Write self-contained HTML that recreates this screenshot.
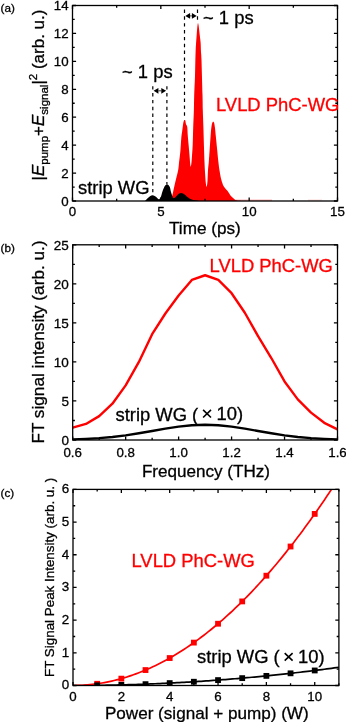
<!DOCTYPE html>
<html><head><meta charset="utf-8"><style>
html,body{margin:0;padding:0;background:#fff;width:346px;height:722px;overflow:hidden}
svg{display:block;will-change:transform}
text{font-family:"Liberation Sans", sans-serif;stroke-width:0.3px;paint-order:stroke}
</style></head><body>
<svg width="346" height="722" viewBox="0 0 346 722">

<path d="M170.8 201C170.92 200.67 171.13 200.42 171.5 199C171.87 197.58 172.48 194.83 173 192.5C173.52 190.17 174.03 187.5 174.6 185C175.17 182.5 175.8 180 176.4 177.5C177 175 177.75 172.58 178.2 170C178.65 167.42 178.73 165.2 179.1 162C179.47 158.8 180.03 154.8 180.4 150.8C180.77 146.8 181.02 141.18 181.3 138C181.58 134.82 181.78 134.12 182.1 131.7C182.42 129.28 182.88 125.38 183.2 123.5C183.52 121.62 183.77 121 184 120.4C184.23 119.8 184.38 119.87 184.6 119.9C184.82 119.93 185.07 119.88 185.3 120.6C185.53 121.32 185.68 123.17 186 124.2C186.32 125.23 186.9 124.83 187.2 126.8C187.5 128.77 187.57 133.02 187.8 136C188.03 138.98 188.32 141.52 188.6 144.7C188.88 147.88 189.2 151.58 189.5 155.1C189.8 158.62 190.15 164.02 190.4 165.8C190.65 167.58 190.78 166.77 191 165.8C191.22 164.83 191.42 163.52 191.7 160C191.98 156.48 192.45 150.15 192.7 144.7C192.95 139.25 193 133.08 193.2 127.3C193.4 121.52 193.73 115.38 193.9 110C194.07 104.62 194.02 100.67 194.2 95C194.38 89.33 194.77 83.17 195 76C195.23 68.83 195.32 58.88 195.6 52C195.88 45.12 196.38 39.12 196.7 34.7C197.02 30.28 197.28 27.42 197.5 25.5C197.72 23.58 197.82 23.2 198 23.2C198.18 23.2 198.32 23.58 198.6 25.5C198.88 27.42 199.37 31.87 199.7 34.7C200.03 37.53 200.38 39.62 200.6 42.5C200.82 45.38 200.85 49.08 201 52C201.15 54.92 201.25 52.83 201.5 60C201.75 67.17 202.28 86.67 202.5 95C202.72 103.33 202.65 104.62 202.8 110C202.95 115.38 203.22 121.52 203.4 127.3C203.58 133.08 203.72 138.92 203.9 144.7C204.08 150.48 204.32 157.45 204.5 162C204.68 166.55 204.78 168.5 205 172C205.22 175.5 205.52 180.53 205.8 183C206.08 185.47 206.42 187.13 206.7 186.8C206.98 186.47 207.28 183.8 207.5 181C207.72 178.2 207.78 173.17 208 170C208.22 166.83 208.52 165.5 208.8 162C209.08 158.5 209.4 153.33 209.7 149C210 144.67 210.32 139.62 210.6 136C210.88 132.38 211.1 129.53 211.4 127.3C211.7 125.07 212.1 123.53 212.4 122.6C212.7 121.67 212.93 121.7 213.2 121.7C213.47 121.7 213.72 121.67 214 122.6C214.28 123.53 214.6 125.07 214.9 127.3C215.2 129.53 215.43 132.38 215.8 136C216.17 139.62 216.67 144.67 217.1 149C217.53 153.33 217.97 158.23 218.4 162C218.83 165.77 219.27 168.85 219.7 171.6C220.13 174.35 220.53 176.52 221 178.5C221.47 180.48 222 182.13 222.5 183.5C223 184.87 223.15 185.43 224 186.7C224.85 187.97 226.52 189.65 227.6 191.1C228.68 192.55 229.53 194.2 230.5 195.4C231.47 196.6 232.32 197.45 233.4 198.3C234.48 199.15 235.07 200.05 237 200.5C238.93 200.95 243.67 200.92 245 201Z" fill="#ff0000"/>
<path d="M145 201C145.43 200.53 146.77 199 147.6 198.2C148.43 197.4 149.13 196.68 150 196.2C150.87 195.72 151.88 195.25 152.8 195.3C153.72 195.35 154.58 195.88 155.5 196.5C156.42 197.12 157.63 198.58 158.3 199C158.97 199.42 159.05 199.42 159.5 199C159.95 198.58 160.53 197.67 161 196.5C161.47 195.33 161.72 193.67 162.3 192C162.88 190.33 163.85 187.7 164.5 186.5C165.15 185.3 165.77 185.12 166.2 184.8C166.63 184.48 166.8 184.6 167.1 184.6C167.4 184.6 167.55 184.4 168 184.8C168.45 185.2 169.3 185.8 169.8 187C170.3 188.2 170.53 190.37 171 192C171.47 193.63 172.12 195.77 172.6 196.8C173.08 197.83 173.42 198.17 173.9 198.2C174.38 198.23 174.95 197.5 175.5 197C176.05 196.5 176.58 195.78 177.2 195.2C177.82 194.62 178.53 193.87 179.2 193.5C179.87 193.13 180.48 192.95 181.2 193C181.92 193.05 182.73 193.38 183.5 193.8C184.27 194.22 184.97 194.83 185.8 195.5C186.63 196.17 187.52 197.13 188.5 197.8C189.48 198.47 190.07 199 191.7 199.5C193.33 200 196.92 200.55 198.3 200.8C199.68 201.05 199.72 200.97 200 201Z" fill="#000"/>
<path d="M236 200.2H272" stroke="#ff0000" stroke-width="0.6" opacity="0.8"/>
<path d="M308 200.1H322" stroke="#ff0000" stroke-width="0.6" opacity="0.35"/>
<path d="M152.8 86.2V194M166.9 86.2V184.5M184.5 9.5V118M197.5 9.5V23" stroke="#000" stroke-width="1.2" stroke-dasharray="3.4 3.45" fill="none"/>
<path d="M158.4 90.8H161.3" stroke="#000" stroke-width="0.8"/>
<path d="M153.6 90.8L158.4 87.9V93.7Z M166.1 90.8L161.3 87.9V93.7Z" fill="#000"/>
<path d="M190.1 15.9H191.9" stroke="#000" stroke-width="0.8"/>
<path d="M185.3 15.9L190.1 13V18.8Z M196.7 15.9L191.9 13V18.8Z" fill="#000"/>
<path d="M72.5 201v-3.6M72.5 5.5v3.6M160.83 201v-3.6M160.83 5.5v3.6M249.17 201v-3.6M249.17 5.5v3.6M337.5 201v-3.6M337.5 5.5v3.6M116.67 201v-2.2M116.67 5.5v2.2M205 201v-2.2M205 5.5v2.2M293.33 201v-2.2M293.33 5.5v2.2M72.5 201h3.6M337.5 201h-3.6M72.5 173.07h3.6M337.5 173.07h-3.6M72.5 145.14h3.6M337.5 145.14h-3.6M72.5 117.21h3.6M337.5 117.21h-3.6M72.5 89.29h3.6M337.5 89.29h-3.6M72.5 61.36h3.6M337.5 61.36h-3.6M72.5 33.43h3.6M337.5 33.43h-3.6M72.5 5.5h3.6M337.5 5.5h-3.6M72.5 187.04h2.2M337.5 187.04h-2.2M72.5 159.11h2.2M337.5 159.11h-2.2M72.5 131.18h2.2M337.5 131.18h-2.2M72.5 103.25h2.2M337.5 103.25h-2.2M72.5 75.32h2.2M337.5 75.32h-2.2M72.5 47.39h2.2M337.5 47.39h-2.2M72.5 19.46h2.2M337.5 19.46h-2.2" stroke="#000" stroke-width="1.3" fill="none"/>
<rect x="72.5" y="5.5" width="265" height="195.5" stroke="#000" stroke-width="1.3" fill="none"/>
<text x="68.6" y="205.6" font-size="13.3" text-anchor="end" fill="#000" stroke="#000" >0</text>
<text x="68.6" y="177.67" font-size="13.3" text-anchor="end" fill="#000" stroke="#000" >2</text>
<text x="68.6" y="149.74" font-size="13.3" text-anchor="end" fill="#000" stroke="#000" >4</text>
<text x="68.6" y="121.81" font-size="13.3" text-anchor="end" fill="#000" stroke="#000" >6</text>
<text x="68.6" y="93.89" font-size="13.3" text-anchor="end" fill="#000" stroke="#000" >8</text>
<text x="68.6" y="65.96" font-size="13.3" text-anchor="end" fill="#000" stroke="#000" >10</text>
<text x="68.6" y="38.03" font-size="13.3" text-anchor="end" fill="#000" stroke="#000" >12</text>
<text x="68.6" y="10.1" font-size="13.3" text-anchor="end" fill="#000" stroke="#000" >14</text>
<text x="72.5" y="216.2" font-size="13.3" text-anchor="middle" fill="#000" stroke="#000" >0</text>
<text x="160.83" y="216.2" font-size="13.3" text-anchor="middle" fill="#000" stroke="#000" >5</text>
<text x="249.17" y="216.2" font-size="13.3" text-anchor="middle" fill="#000" stroke="#000" >10</text>
<text x="337.5" y="216.2" font-size="13.3" text-anchor="middle" fill="#000" stroke="#000" >15</text>
<text x="203" y="23.7" font-size="18.4" text-anchor="start" fill="#000" stroke="#000" >~ 1 ps</text>
<text x="122" y="78.1" font-size="18.4" text-anchor="start" fill="#000" stroke="#000" >~ 1 ps</text>
<text x="216" y="110.7" font-size="18.4" text-anchor="start" fill="#ff0000" stroke="#ff0000" >LVLD PhC-WG</text>
<text x="78" y="194.3" font-size="18.4" text-anchor="start" fill="#000" stroke="#000" >strip WG</text>
<text x="169" y="233.9" font-size="17.15" text-anchor="start" fill="#000" stroke="#000" >Time (ps)</text>
<text x="0.5" y="11.7" font-size="11.7" text-anchor="start" fill="#000" stroke="#000" >(a)</text>
<text stroke="#000" transform="translate(43.6,180.5) rotate(-90)" font-size="17">|<tspan font-style="italic">E</tspan><tspan font-size="11.5" dy="4.8">pump</tspan><tspan dy="-4.8">+</tspan><tspan font-style="italic">E</tspan><tspan font-size="11.5" dy="4.8">signal</tspan><tspan dy="-4.8">|</tspan><tspan font-size="11.5" dy="-7">2</tspan><tspan dy="7"> (arb. u.)</tspan></text>
<svg x="0" y="0" width="346" height="722" overflow="hidden"><clipPath id="cb"><rect x="72.7" y="244.8" width="264.8" height="195.2"/></clipPath></svg>
<path d="M72.7 439.43 L85.94 438.93 L99.18 438.14 L112.42 436.95 L125.66 435.32 L138.9 433.28 L152.14 430.96 L165.38 428.62 L178.62 426.58 L191.86 425.19 L205.1 424.7 L218.34 425.19 L231.58 426.58 L244.82 428.62 L258.06 430.96 L271.3 433.28 L284.54 435.32 L297.78 436.95 L311.02 438.14 L324.26 438.93 L337.5 439.43" stroke="#000" stroke-width="2.4" fill="none" stroke-linejoin="round" clip-path="url(#cb)"/>
<path d="M72.7 427.66 L85.94 423.92 L99.18 416.11 L112.42 403.69 L125.66 385.34 L138.9 361.92 L152.14 334.2 L165.38 313.51 L178.62 295.55 L191.86 279.94 L205.1 275.25 L218.34 279.94 L231.58 293.21 L244.82 312.73 L258.06 336.15 L271.3 358.02 L284.54 381.44 L297.78 399.4 L311.02 412.67 L324.26 422.82 L337.5 429.38" stroke="#ff0000" stroke-width="2.4" fill="none" stroke-linejoin="round" clip-path="url(#cb)"/>
<path d="M72.7 440v-3.6M72.7 244.8v3.6M125.66 440v-3.6M125.66 244.8v3.6M178.62 440v-3.6M178.62 244.8v3.6M231.58 440v-3.6M231.58 244.8v3.6M284.54 440v-3.6M284.54 244.8v3.6M337.5 440v-3.6M337.5 244.8v3.6M99.18 440v-2.2M99.18 244.8v2.2M152.14 440v-2.2M152.14 244.8v2.2M205.1 440v-2.2M205.1 244.8v2.2M258.06 440v-2.2M258.06 244.8v2.2M311.02 440v-2.2M311.02 244.8v2.2M72.7 440h3.6M337.5 440h-3.6M72.7 400.96h3.6M337.5 400.96h-3.6M72.7 361.92h3.6M337.5 361.92h-3.6M72.7 322.88h3.6M337.5 322.88h-3.6M72.7 283.84h3.6M337.5 283.84h-3.6M72.7 244.8h3.6M337.5 244.8h-3.6M72.7 420.48h2.2M337.5 420.48h-2.2M72.7 381.44h2.2M337.5 381.44h-2.2M72.7 342.4h2.2M337.5 342.4h-2.2M72.7 303.36h2.2M337.5 303.36h-2.2M72.7 264.32h2.2M337.5 264.32h-2.2" stroke="#000" stroke-width="1.3" fill="none"/>
<rect x="72.7" y="244.8" width="264.8" height="195.2" stroke="#000" stroke-width="1.3" fill="none"/>
<text x="68.9" y="445.4" font-size="13.5" text-anchor="end" fill="#000" stroke="#000" >0</text>
<text x="68.9" y="406.36" font-size="13.5" text-anchor="end" fill="#000" stroke="#000" >5</text>
<text x="68.9" y="367.32" font-size="13.5" text-anchor="end" fill="#000" stroke="#000" >10</text>
<text x="68.9" y="328.28" font-size="13.5" text-anchor="end" fill="#000" stroke="#000" >15</text>
<text x="68.9" y="289.24" font-size="13.5" text-anchor="end" fill="#000" stroke="#000" >20</text>
<text x="68.9" y="250.2" font-size="13.5" text-anchor="end" fill="#000" stroke="#000" >25</text>
<text x="72.7" y="456.6" font-size="13.3" text-anchor="middle" fill="#000" stroke="#000" >0.6</text>
<text x="125.66" y="456.6" font-size="13.3" text-anchor="middle" fill="#000" stroke="#000" >0.8</text>
<text x="178.62" y="456.6" font-size="13.3" text-anchor="middle" fill="#000" stroke="#000" >1.0</text>
<text x="231.58" y="456.6" font-size="13.3" text-anchor="middle" fill="#000" stroke="#000" >1.2</text>
<text x="284.54" y="456.6" font-size="13.3" text-anchor="middle" fill="#000" stroke="#000" >1.4</text>
<text x="337.5" y="456.6" font-size="13.3" text-anchor="middle" fill="#000" stroke="#000" >1.6</text>
<text x="209.6" y="272" font-size="18.4" text-anchor="start" fill="#ff0000" stroke="#ff0000" >LVLD PhC-WG</text>
<text x="115.5" y="420.6" font-size="18.4" text-anchor="start" fill="#000" stroke="#000" >strip WG (</text>
<path d="M203.1 409.9L211 417.5M203.1 417.5L211 409.9" stroke="#000" stroke-width="1.6"/>
<text x="216.5" y="420.2" font-size="18.4" text-anchor="start" fill="#000" stroke="#000" >10)</text>
<text x="141.9" y="476.6" font-size="17.08" text-anchor="start" fill="#000" stroke="#000" >Frequency (THz)</text>
<text x="0.5" y="251.9" font-size="11.7" text-anchor="start" fill="#000" stroke="#000" >(b)</text>
<text stroke="#000" transform="translate(44,443.6) rotate(-90)" font-size="17.2">FT signal intensity (arb. u.)</text>
<svg x="0" y="0" width="346" height="722"><clipPath id="cc"><rect x="73.0" y="489.4" width="265.9" height="196.10000000000002"/></clipPath></svg>
<path d="M73 685.5 L75.42 685.5 L77.83 685.49 L80.25 685.49 L82.67 685.48 L85.09 685.46 L87.5 685.45 L89.92 685.43 L92.34 685.4 L94.76 685.38 L97.17 685.35 L99.59 685.32 L102.01 685.28 L104.42 685.25 L106.84 685.21 L109.26 685.16 L111.68 685.12 L114.09 685.07 L116.51 685.01 L118.93 684.96 L121.35 684.9 L123.76 684.84 L126.18 684.77 L128.6 684.7 L131.01 684.63 L133.43 684.56 L135.85 684.48 L138.27 684.4 L140.68 684.32 L143.1 684.24 L145.52 684.15 L147.94 684.06 L150.35 683.96 L152.77 683.86 L155.19 683.76 L157.6 683.66 L160.02 683.55 L162.44 683.44 L164.86 683.33 L167.27 683.21 L169.69 683.09 L172.11 682.97 L174.53 682.85 L176.94 682.72 L179.36 682.59 L181.78 682.46 L184.19 682.32 L186.61 682.18 L189.03 682.04 L191.45 681.89 L193.86 681.74 L196.28 681.59 L198.7 681.43 L201.12 681.28 L203.53 681.12 L205.95 680.95 L208.37 680.79 L210.78 680.62 L213.2 680.44 L215.62 680.27 L218.04 680.09 L220.45 679.91 L222.87 679.72 L225.29 679.53 L227.71 679.34 L230.12 679.15 L232.54 678.95 L234.96 678.75 L237.37 678.55 L239.79 678.34 L242.21 678.13 L244.63 677.92 L247.04 677.71 L249.46 677.49 L251.88 677.27 L254.3 677.04 L256.71 676.82 L259.13 676.59 L261.55 676.35 L263.96 676.12 L266.38 675.88 L268.8 675.64 L271.22 675.39 L273.63 675.14 L276.05 674.89 L278.47 674.64 L280.89 674.38 L283.3 674.12 L285.72 673.86 L288.14 673.59 L290.55 673.32 L292.97 673.05 L295.39 672.77 L297.81 672.5 L300.22 672.22 L302.64 671.93 L305.06 671.64 L307.48 671.35 L309.89 671.06 L312.31 670.76 L314.73 670.47 L317.14 670.16 L319.56 669.86 L321.98 669.55 L324.4 669.24 L326.81 668.92 L329.23 668.61 L331.65 668.29 L334.07 667.96 L336.48 667.64 L338.9 667.31" stroke="#000" stroke-width="1.7" fill="none" clip-path="url(#cc)"/>
<path d="M73 685.5 L75.42 685.48 L77.83 685.43 L80.25 685.35 L82.67 685.23 L85.09 685.07 L87.5 684.88 L89.92 684.66 L92.34 684.4 L94.76 684.11 L97.17 683.78 L99.59 683.42 L102.01 683.03 L104.42 682.6 L106.84 682.14 L109.26 681.64 L111.68 681.11 L114.09 680.54 L116.51 679.94 L118.93 679.31 L121.35 678.64 L123.76 677.93 L126.18 677.2 L128.6 676.42 L131.01 675.62 L133.43 674.78 L135.85 673.9 L138.27 672.99 L140.68 672.05 L143.1 671.07 L145.52 670.06 L147.94 669.01 L150.35 667.93 L152.77 666.81 L155.19 665.66 L157.6 664.48 L160.02 663.26 L162.44 662.01 L164.86 660.72 L167.27 659.4 L169.69 658.05 L172.11 656.66 L174.53 655.23 L176.94 653.77 L179.36 652.28 L181.78 650.75 L184.19 649.19 L186.61 647.6 L189.03 645.97 L191.45 644.3 L193.86 642.6 L196.28 640.87 L198.7 639.1 L201.12 637.3 L203.53 635.47 L205.95 633.59 L208.37 631.69 L210.78 629.75 L213.2 627.78 L215.62 625.77 L218.04 623.73 L220.45 621.65 L222.87 619.54 L225.29 617.4 L227.71 615.22 L230.12 613 L232.54 610.76 L234.96 608.47 L237.37 606.16 L239.79 603.81 L242.21 601.42 L244.63 599 L247.04 596.55 L249.46 594.06 L251.88 591.54 L254.3 588.98 L256.71 586.39 L259.13 583.77 L261.55 581.11 L263.96 578.41 L266.38 575.68 L268.8 572.92 L271.22 570.12 L273.63 567.29 L276.05 564.43 L278.47 561.53 L280.89 558.59 L283.3 555.63 L285.72 552.62 L288.14 549.59 L290.55 546.51 L292.97 543.41 L295.39 540.27 L297.81 537.09 L300.22 533.89 L302.64 530.64 L305.06 527.36 L307.48 524.05 L309.89 520.71 L312.31 517.33 L314.73 513.91 L317.14 510.46 L319.56 506.98 L321.98 503.46 L324.4 499.91 L326.81 496.32 L329.23 492.7 L331.65 489.05 L334.07 485.36 L336.48 481.64 L338.9 477.88" stroke="#ff0000" stroke-width="1.7" fill="none" clip-path="url(#cc)"/>
<g clip-path="url(#cc)">
<rect x="94.27" y="680.88" width="5.8" height="5.8" fill="#ff0000"/>
<rect x="118.45" y="675.74" width="5.8" height="5.8" fill="#ff0000"/>
<rect x="142.62" y="667.16" width="5.8" height="5.8" fill="#ff0000"/>
<rect x="166.79" y="655.15" width="5.8" height="5.8" fill="#ff0000"/>
<rect x="190.96" y="639.7" width="5.8" height="5.8" fill="#ff0000"/>
<rect x="215.14" y="620.83" width="5.8" height="5.8" fill="#ff0000"/>
<rect x="239.31" y="598.52" width="5.8" height="5.8" fill="#ff0000"/>
<rect x="263.48" y="572.78" width="5.8" height="5.8" fill="#ff0000"/>
<rect x="287.65" y="543.61" width="5.8" height="5.8" fill="#ff0000"/>
<rect x="311.83" y="511.01" width="5.8" height="5.8" fill="#ff0000"/>
<rect x="94.27" y="682.45" width="5.8" height="5.8" fill="#000"/>
<rect x="118.45" y="682" width="5.8" height="5.8" fill="#000"/>
<rect x="142.62" y="681.25" width="5.8" height="5.8" fill="#000"/>
<rect x="166.79" y="680.19" width="5.8" height="5.8" fill="#000"/>
<rect x="190.96" y="678.84" width="5.8" height="5.8" fill="#000"/>
<rect x="215.14" y="677.19" width="5.8" height="5.8" fill="#000"/>
<rect x="239.31" y="675.23" width="5.8" height="5.8" fill="#000"/>
<rect x="263.48" y="672.98" width="5.8" height="5.8" fill="#000"/>
<rect x="287.65" y="670.42" width="5.8" height="5.8" fill="#000"/>
<rect x="311.83" y="667.57" width="5.8" height="5.8" fill="#000"/>
</g>
<path d="M73 685.5v-3.6M73 489.4v3.6M121.35 685.5v-3.6M121.35 489.4v3.6M169.69 685.5v-3.6M169.69 489.4v3.6M218.04 685.5v-3.6M218.04 489.4v3.6M266.38 685.5v-3.6M266.38 489.4v3.6M314.73 685.5v-3.6M314.73 489.4v3.6M97.17 685.5v-2.2M97.17 489.4v2.2M145.52 685.5v-2.2M145.52 489.4v2.2M193.86 685.5v-2.2M193.86 489.4v2.2M242.21 685.5v-2.2M242.21 489.4v2.2M290.55 685.5v-2.2M290.55 489.4v2.2M338.9 685.5v-2.2M338.9 489.4v2.2M73 685.5h3.6M338.9 685.5h-3.6M73 652.82h3.6M338.9 652.82h-3.6M73 620.13h3.6M338.9 620.13h-3.6M73 587.45h3.6M338.9 587.45h-3.6M73 554.77h3.6M338.9 554.77h-3.6M73 522.08h3.6M338.9 522.08h-3.6M73 489.4h3.6M338.9 489.4h-3.6M73 669.16h2.2M338.9 669.16h-2.2M73 636.48h2.2M338.9 636.48h-2.2M73 603.79h2.2M338.9 603.79h-2.2M73 571.11h2.2M338.9 571.11h-2.2M73 538.42h2.2M338.9 538.42h-2.2M73 505.74h2.2M338.9 505.74h-2.2" stroke="#000" stroke-width="1.3" fill="none"/>
<rect x="73" y="489.4" width="265.9" height="196.1" stroke="#000" stroke-width="1.3" fill="none"/>
<text x="69.3" y="689.4" font-size="13.4" text-anchor="end" fill="#000" stroke="#000" >0</text>
<text x="69.3" y="656.72" font-size="13.4" text-anchor="end" fill="#000" stroke="#000" >1</text>
<text x="69.3" y="624.03" font-size="13.4" text-anchor="end" fill="#000" stroke="#000" >2</text>
<text x="69.3" y="591.35" font-size="13.4" text-anchor="end" fill="#000" stroke="#000" >3</text>
<text x="69.3" y="558.67" font-size="13.4" text-anchor="end" fill="#000" stroke="#000" >4</text>
<text x="69.3" y="525.98" font-size="13.4" text-anchor="end" fill="#000" stroke="#000" >5</text>
<text x="69.3" y="493.3" font-size="13.4" text-anchor="end" fill="#000" stroke="#000" >6</text>
<text x="73" y="700.5" font-size="13.3" text-anchor="middle" fill="#000" stroke="#000" >0</text>
<text x="121.35" y="700.5" font-size="13.3" text-anchor="middle" fill="#000" stroke="#000" >2</text>
<text x="169.69" y="700.5" font-size="13.3" text-anchor="middle" fill="#000" stroke="#000" >4</text>
<text x="218.04" y="700.5" font-size="13.3" text-anchor="middle" fill="#000" stroke="#000" >6</text>
<text x="266.38" y="700.5" font-size="13.3" text-anchor="middle" fill="#000" stroke="#000" >8</text>
<text x="314.73" y="700.5" font-size="13.3" text-anchor="middle" fill="#000" stroke="#000" >10</text>
<text x="131.5" y="566.6" font-size="18.4" text-anchor="start" fill="#ff0000" stroke="#ff0000" >LVLD PhC-WG</text>
<text x="197" y="662.5" font-size="18.4" text-anchor="start" fill="#000" stroke="#000" >strip WG (</text>
<path d="M284.7 653.1L292.6 660.6M284.7 660.6L292.6 653.1" stroke="#000" stroke-width="1.6"/>
<text x="298.1" y="662.5" font-size="18.4" text-anchor="start" fill="#000" stroke="#000" >10)</text>
<text x="104.9" y="718.9" font-size="17.1" text-anchor="start" fill="#000" stroke="#000" >Power (signal + pump) (W)</text>
<text x="0.5" y="496.5" font-size="11.7" text-anchor="start" fill="#000" stroke="#000" >(c)</text>
<text stroke="#000" transform="translate(53.6,677.0) rotate(-90)" font-size="13.4">FT Signal Peak Intensity (arb. u. )</text>
</svg>
</body></html>
